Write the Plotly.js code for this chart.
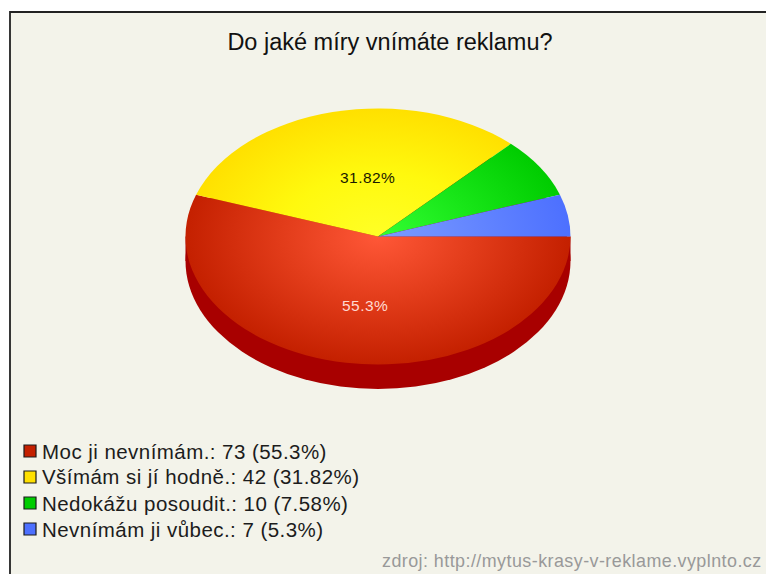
<!DOCTYPE html>
<html lang="cs">
<head>
<meta charset="utf-8">
<script src="https://cdn.plot.ly/plotly-3.0.1.min.js"></script>
<style>
  html, body { margin: 0; padding: 0; background: #fff; overflow: hidden; }
  #chart { width: 766px; height: 574px; }
  .annotation-text { letter-spacing: 0.45px; }
</style>
</head>
<body>
<div id="chart"></div>
<script>
// Survey answers, in the order they run clockwise from 3 o'clock
const categories = ['Moc ji nevnímám.', 'Všímám si jí hodně.', 'Nedokážu posoudit.', 'Nevnímám ji vůbec.'];
const counts = [73, 42, 10, 7];
const edgeColors = ['#c42000', '#ffe000', '#00cc00', '#4d70ff'];
const midColors = ['#e23c1a', '#fff90e', '#18e618', '#6486ff'];
const coreColors = ['#ff5737', '#ffff26', '#33ff33', '#7c9cff'];
const sideColor = '#a80000';

const chartTitle = 'Do jaké míry vnímáte reklamu?';
const sourceNote = 'zdroj: http://mytus-krasy-v-reklame.vyplnto.cz';

const W = 766, H = 574;
const cx = 378, cy = 236.5, rx = 192.5, ry = 128, depth = 24.5;
const px = x => x / W;
const py = y => 1 - y / H;

const total = counts.reduce((a, b) => a + b, 0);
const pct = v => String(+(100 * v / total).toFixed(2));
const font = 'Liberation Sans, Arial, sans-serif';

function textAt(x, y, text, size, color, xanchor) {
  return {
    xref: 'paper', yref: 'paper', x: px(x), y: py(y), text: text,
    showarrow: false, xanchor: xanchor || 'center', yanchor: 'middle',
    borderpad: 0, font: { family: font, size: size, color: color }
  };
}

const legendRows = [451, 477, 503, 529];

const annotations = [
  textAt(367, 177, pct(counts[1]) + '%', 15.5, '#1a1a00'),
  textAt(364.5, 306, pct(counts[0]) + '%', 15.5, '#ffd9d0'),
  textAt(763, 561, sourceNote, 17.9, '#999999', 'right')
].concat(categories.map((name, i) =>
  textAt(41, legendRows[i], name + ': ' + counts[i] + ' (' + pct(counts[i]) + '%)', 20.5, '#1c1c1c', 'left')
));

const paperRect = (x0, y0, x1, y1, extra) => Object.assign({
  type: 'rect', xref: 'paper', yref: 'paper', layer: 'below',
  x0: px(x0), x1: px(x1), y0: py(y0), y1: py(y1)
}, extra);

const shapes = [
  // cream panel with its dark frame
  paperRect(10, 12, 780, 590, { fillcolor: '#f3f3ea', line: { color: '#222222', width: 1.8 } }),
  // side wall of the disc: a lowered ellipse joined to the rim by a band
  {
    type: 'circle', xref: 'paper', yref: 'paper', layer: 'below',
    x0: px(cx - rx), x1: px(cx + rx), y0: py(cy + depth - ry), y1: py(cy + depth + ry),
    fillcolor: sideColor, line: { width: 0 }
  },
  paperRect(cx - rx, cy, cx + rx, cy + depth, { fillcolor: sideColor, line: { width: 0 } })
].concat(edgeColors.map((c, i) =>
  paperRect(24, legendRows[i] - 6, 36, legendRows[i] + 6, { fillcolor: c, line: { color: '#1c1c1c', width: 1.2 } })
));

const trace = {
  type: 'pie',
  labels: categories,
  values: counts,
  sort: false,
  direction: 'clockwise',
  rotation: 90,
  textinfo: 'none',
  hoverinfo: 'label+value+percent',
  marker: { colors: edgeColors, line: { width: 0 } },
  domain: { x: [px(cx - rx), px(cx + rx)], y: [py(cy + rx), py(cy - rx)] }
};

const layout = {
  width: W, height: H,
  margin: { l: 0, r: 0, t: 0, b: 0 },
  paper_bgcolor: '#ffffff',
  showlegend: false,
  title: {
    text: chartTitle, xref: 'paper', yref: 'paper', x: px(390), y: py(42),
    xanchor: 'center', yanchor: 'middle', font: { family: font, size: 23.5, color: '#111111' }
  },
  shapes: shapes,
  annotations: annotations
};

// Tilts the pie into an ellipse and gives each slice a radial shine from the hub
function tiltPie(gd) {
  const layer = gd.querySelector('.pielayer');
  const svg = gd.querySelector('svg.main-svg');
  if (!layer || !svg) return;
  const c = gd.calcdata[0][0];
  const scale = ry / rx;
  layer.setAttribute('transform',
    'translate(0,' + c.cy + ') scale(1,' + scale + ') translate(0,' + (-c.cy) + ')');

  const NS = 'http://www.w3.org/2000/svg';
  const defs = svg.querySelector('defs') || svg.insertBefore(document.createElementNS(NS, 'defs'), svg.firstChild);
  layer.querySelectorAll('g.slice').forEach((slice, i) => {
    const id = 'slice-shine-' + i;
    let g = defs.querySelector('#' + id);
    if (!g) {
      g = document.createElementNS(NS, 'radialGradient');
      g.setAttribute('id', id);
      g.setAttribute('gradientUnits', 'userSpaceOnUse');
      [[0, coreColors[i]], [0.5, midColors[i]], [1, edgeColors[i]]].forEach(([o, col]) => {
        const stop = document.createElementNS(NS, 'stop');
        stop.setAttribute('offset', o);
        stop.setAttribute('stop-color', col);
        g.appendChild(stop);
      });
      defs.appendChild(g);
    }
    g.setAttribute('cx', c.cx);
    g.setAttribute('cy', c.cy);
    g.setAttribute('r', c.r);
    const path = slice.querySelector('path.surface');
    if (path) path.style.fill = 'url(#' + id + ')';
  });
}

const gd = document.getElementById('chart');
Plotly.newPlot(gd, [trace], layout, { displayModeBar: false, staticPlot: true }).then(() => tiltPie(gd));
</script>
</body>
</html>
